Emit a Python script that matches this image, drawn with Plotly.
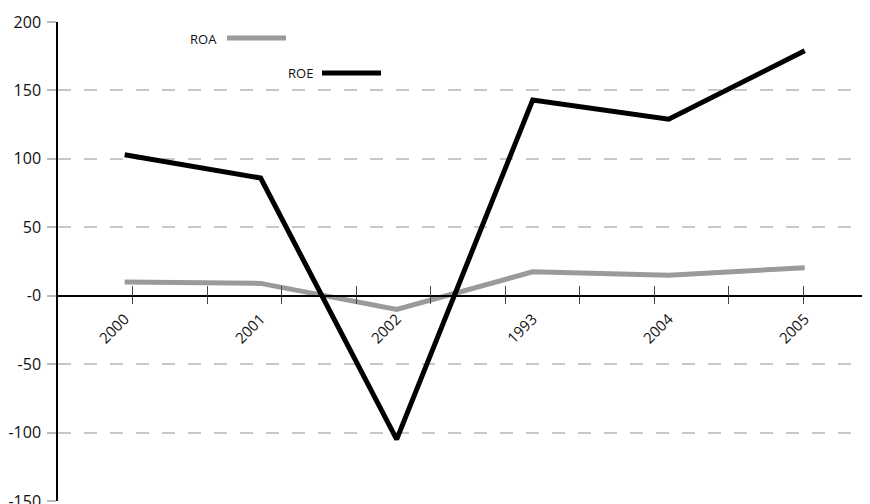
import plotly.graph_objects as go

categories = ["2000", "2001", "2002", "1993", "2004", "2005"]
roa = [10, 9, -10, 17.5, 15, 20.5]
roe = [103, 86, -105, 143, 129, 179]
y_tickvals = [200, 150, 100, 50, 0, -50, -100, -150]
y_ticktext = ["200", "150", "100", "50", "-0", "-50", "-100", "-150"]
minor_ticks = list(range(10))

FONT = "Open Sans"
W, H = 870, 504
OFF = 8  # page body margin in the browser
# plot area in window pixels: x 58..870, y 22..501
ML, MT = 58 - OFF, 22 - OFF
MR = W - (870 - OFF)
MB = H - (501 - OFF)
pw, ph = W - ML - MR, H - MT - MB

def px(x):  # window pixel -> paper
    return (x - OFF - ML) / pw

def py(y):
    return (H - MB - (y - OFF)) / ph

fig = go.Figure()
fig.add_trace(go.Scatter(x=categories, y=roa, mode="lines", name="ROA",
                         line=dict(color="#9a9a9a", width=5), showlegend=False))
fig.add_trace(go.Scatter(x=categories, y=roe, mode="lines", name="ROE",
                         line=dict(color="#000000", width=5), showlegend=False))
# empty helper traces so the overlay tick axes render
fig.add_trace(go.Scatter(x=[None], y=[None], xaxis="x2", yaxis="y", showlegend=False, hoverinfo="skip"))
fig.add_trace(go.Scatter(x=[None], y=[None], xaxis="x3", yaxis="y", showlegend=False, hoverinfo="skip"))

zero_pos = 150 / 350

fig.update_layout(
    width=W, height=H,
    margin=dict(l=ML, r=MR, t=MT, b=MB, autoexpand=False),
    paper_bgcolor="white", plot_bgcolor="white",
    font=dict(family=FONT, size=15, color="#111"),
    xaxis=dict(type="category", range=[-0.49, 5.48], anchor="free", position=zero_pos,
               showline=True, linecolor="#000", linewidth=1.5, ticks="",
               tickangle=-45, tickfont=dict(size=15), showgrid=False, zeroline=False,
               ticklabelstandoff=8, automargin=False),
    xaxis2=dict(overlaying="x", range=[-1.007, 9.9], anchor="free", position=zero_pos,
                ticks="outside", ticklen=7, tickwidth=1, tickcolor="#444", tickvals=minor_ticks,
                showticklabels=False, showgrid=False, zeroline=False, showline=False, automargin=False),
    xaxis3=dict(overlaying="x", range=[-1.007, 9.9], anchor="free", position=zero_pos,
                ticks="inside", ticklen=10, tickwidth=1, tickcolor="#444", tickvals=minor_ticks,
                showticklabels=False, showgrid=False, zeroline=False, showline=False, automargin=False),
    yaxis=dict(range=[-150, 200], tickvals=y_tickvals, ticktext=y_ticktext,
               showline=True, linecolor="#000", linewidth=1.5,
               ticks="outside", ticklen=9, tickcolor="#bbb", tickwidth=1.5,
               showgrid=True, gridcolor="#c8c8c8", gridwidth=1.5, griddash="13px,13px",
               zeroline=False, tickfont=dict(size=16), ticklabelstandoff=3, automargin=False),
)

# legend drawn manually (text then swatch)
fig.add_annotation(xref="paper", yref="paper", x=px(219), y=py(39), text="ROA",
                   showarrow=False, xanchor="right", yanchor="middle",
                   font=dict(size=13, color="#111"))
fig.add_shape(type="line", xref="paper", yref="paper", x0=px(227), x1=px(286),
              y0=py(38), y1=py(38), line=dict(color="#9a9a9a", width=5))
fig.add_annotation(xref="paper", yref="paper", x=px(315), y=py(73), text="ROE",
                   showarrow=False, xanchor="right", yanchor="middle",
                   font=dict(size=13, color="#111"))
fig.add_shape(type="line", xref="paper", yref="paper", x0=px(322), x1=px(381),
              y0=py(73), y1=py(73), line=dict(color="#000000", width=5))

fig.write_html("out.html")
